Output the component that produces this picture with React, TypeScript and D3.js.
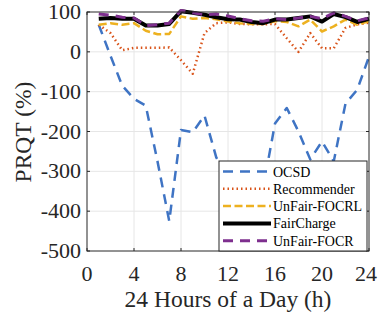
import React, { useRef, useEffect } from 'react';
import * as d3 from 'd3';

// hours 1..24
const hours = d3.range(1, 25);

const ocsd = [68, -10, -85, -118, -135, -275, -425, -196, -202, -160, -265, -320, -340, -330, -340, -180, -141, -200, -270, -225, -275, -130, -95, -12];
const recommender = [68, 47, 4, 10, 10, 10, 11, -21, -55, 47, 72, 74, 70, 69, 69, 70, 34, 0, 47, 9, 9, 60, 69, 73];
const focrl = [68, 72, 68, 72, 53, 44, 45, 89, 83, 85, 82, 76, 72, 70, 70, 77, 75, 64, 81, 51, 64, 81, 68, 77];
const fairCharge = [83, 85, 83, 83, 66, 66, 70, 102, 98, 93, 87, 82, 81, 75, 72, 81, 81, 85, 89, 76, 95, 87, 75, 83];
const focr = [95, 92, 87, 85, 66, 68, 72, 104, 98, 93, 95, 90, 83, 78, 77, 83, 81, 85, 89, 83, 98, 89, 78, 85];

const xTicks = [0, 4, 8, 12, 16, 20, 24];
const yTicks = [100, 0, -100, -200, -300, -400, -500];

const seriesNames = ['OCSD', 'Recommender', 'UnFair-FOCRL', 'FairCharge', 'UnFair-FOCR'];

const App = () => {
  const svgRef = useRef(null);

  useEffect(() => {
    const svg = d3.select(svgRef.current);
    svg.selectAll('*').remove();

    const width = 378;
    const height = 320;
    const left = 87, right = 369, top = 12, bottom = 251;
    const font = '"Liberation Serif", "Times New Roman", serif';

    const x = d3.scaleLinear().domain([0, 24]).range([left, right]);
    const y = d3.scaleLinear().domain([-500, 100]).range([bottom, top]);

    svg.attr('width', width).attr('height', height);

    // grid
    svg.append('g').selectAll('line').data(xTicks.slice(1, -1)).join('line')
      .attr('x1', d => x(d)).attr('x2', d => x(d))
      .attr('y1', top).attr('y2', bottom)
      .attr('stroke', '#e6e6e6').attr('stroke-width', 1);
    svg.append('g').selectAll('line').data(yTicks.slice(1, -1)).join('line')
      .attr('x1', left).attr('x2', right)
      .attr('y1', d => y(d)).attr('y2', d => y(d))
      .attr('stroke', '#e6e6e6').attr('stroke-width', 1);

    // tick marks (inside, all four sides)
    const tk = 3;
    xTicks.forEach(t => {
      svg.append('line').attr('x1', x(t)).attr('x2', x(t)).attr('y1', bottom).attr('y2', bottom - tk).attr('stroke', '#262626');
      svg.append('line').attr('x1', x(t)).attr('x2', x(t)).attr('y1', top).attr('y2', top + tk).attr('stroke', '#262626');
    });
    yTicks.forEach(t => {
      svg.append('line').attr('x1', left).attr('x2', left + tk).attr('y1', y(t)).attr('y2', y(t)).attr('stroke', '#262626');
      svg.append('line').attr('x1', right).attr('x2', right - tk).attr('y1', y(t)).attr('y2', y(t)).attr('stroke', '#262626');
    });

    const line = d3.line()
      .x((d, i) => x(hours[i]))
      .y(d => y(d));

    const clip = svg.append('clipPath').attr('id', 'plotclip');
    clip.append('rect').attr('x', left).attr('y', top - 4).attr('width', right - left + 2).attr('height', bottom - top + 4);

    const styles = [
      { data: ocsd, color: '#3f74c4', width: 2.5, dash: '10,7' },
      { data: recommender, color: '#d95319', width: 2.5, dash: '1.5,3' },
      { data: focrl, color: '#edb120', width: 2.5, dash: '8,3.5' },
      { data: fairCharge, color: '#000000', width: 4, dash: null },
      { data: focr, color: '#7e2f8e', width: 3, dash: '10,7' },
    ];

    const plot = svg.append('g').attr('clip-path', 'url(#plotclip)');
    styles.forEach(s => {
      plot.append('path')
        .datum(s.data)
        .attr('d', line)
        .attr('fill', 'none')
        .attr('stroke', s.color)
        .attr('stroke-width', s.width)
        .attr('stroke-dasharray', s.dash)
        .attr('stroke-linejoin', 'round');
    });

    // frame
    svg.append('rect')
      .attr('x', left).attr('y', top)
      .attr('width', right - left).attr('height', bottom - top)
      .attr('fill', 'none').attr('stroke', '#262626').attr('stroke-width', 1);

    // tick labels (last one kept inside the page edge)
    svg.append('g').selectAll('text').data(xTicks).join('text')
      .attr('x', d => (d === 24 ? 377 : x(d))).attr('y', 281)
      .attr('text-anchor', d => (d === 24 ? 'end' : 'middle'))
      .attr('font-family', font).attr('font-size', 22).attr('fill', '#262626')
      .text(d => d);
    svg.append('g').selectAll('text').data(yTicks).join('text')
      .attr('x', 81).attr('y', d => y(d) + 7)
      .attr('text-anchor', 'end')
      .attr('font-family', font).attr('font-size', 22).attr('fill', '#262626')
      .text(d => d);

    // axis labels
    svg.append('text')
      .attr('x', (left + right) / 2).attr('y', 307)
      .attr('text-anchor', 'middle')
      .attr('font-family', font).attr('font-size', 23.5).attr('fill', '#262626')
      .text('24 Hours of a Day (h)');
    svg.append('text')
      .attr('transform', `translate(31,132) rotate(-90)`)
      .attr('text-anchor', 'middle')
      .attr('font-family', font).attr('font-size', 23.5).attr('fill', '#262626')
      .text('PRQT (%)');

    // legend
    const lg = svg.append('g');
    lg.append('rect')
      .attr('x', 219).attr('y', 161).attr('width', 148).attr('height', 90)
      .attr('fill', 'white').attr('stroke', '#262626').attr('stroke-width', 1);
    seriesNames.forEach((name, i) => {
      const ry = 171.5 + i * 17.3;
      const s = styles[i];
      lg.append('line')
        .attr('x1', 223).attr('x2', 271).attr('y1', ry).attr('y2', ry)
        .attr('stroke', s.color).attr('stroke-width', s.width)
        .attr('stroke-dasharray', s.dash);
      lg.append('text')
        .attr('x', 273).attr('y', ry + 5)
        .attr('font-family', font).attr('font-size', 14).attr('fill', '#000')
        .text(name);
    });
  }, []);

  return <svg ref={svgRef} style={{ position: 'absolute', left: 0, top: 0 }}></svg>;
};

export default App;
